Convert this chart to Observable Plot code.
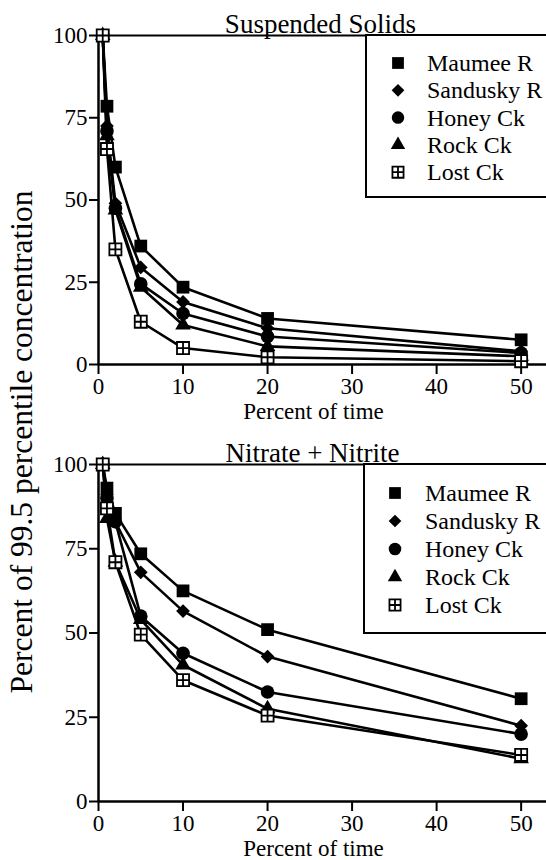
<!DOCTYPE html>
<html>
<head>
<meta charset="utf-8">
<script src="https://cdn.jsdelivr.net/npm/d3@7"></script>
<script src="https://cdn.jsdelivr.net/npm/@observablehq/plot@0.6"></script>
<style>
  body { margin: 0; background: #fff; }
  #chart { position: relative; width: 546px; height: 860px; overflow: hidden; background: #fff; }
  #chart > svg { position: absolute; left: 0; }
  .overlay { position: absolute; left: 0; top: 0; pointer-events: none; }
</style>
</head>
<body>
<div id="chart"></div>
<script>
// Exceedance: percent of time each concentration is exceeded
const percentOfTime = [0.5, 1, 2, 5, 10, 20, 50];
const sites = ["Maumee R", "Sandusky R", "Honey Ck", "Rock Ck", "Lost Ck"];

// Suspended solids, as percent of the 99.5 percentile concentration
const solidsMaumee   = [100, 78.5, 60, 36, 23.5, 14, 7.5];
const solidsSandusky = [100, 72.5, 49, 29.5, 19, 11, 4];
const solidsHoney    = [100, 71, 47.5, 24.5, 15.5, 8.5, 3.5];
const solidsRock     = [100, 69.5, 47, 23.5, 12, 5.5, 2.5];
const solidsLost     = [100, 65.5, 35, 13, 5, 2.2, 1];

// Nitrate + nitrite, as percent of the 99.5 percentile concentration
const nitrateMaumee   = [100, 93, 85.5, 73.5, 62.5, 51, 30.5];
const nitrateSandusky = [100, 91, 83, 68, 56.5, 43, 22.5];
const nitrateHoney    = [100, 90, 83, 55, 44, 32.5, 20];
const nitrateRock     = [100, 84, 71, 54, 40.5, 27.5, 12.7];
const nitrateLost     = [100, 87, 71, 49.5, 36, 25.5, 13.8];

const xTicks = [0, 10, 20, 30, 40, 50];
const yTicks = [0, 25, 50, 75, 100];

const FONT = '"Liberation Serif", "Times New Roman", serif';

// Open square divided into four by a cross
const boxPlus = {
  draw(context, size) {
    const s = Math.sqrt(size) / 2;
    context.moveTo(-s, -s);
    context.lineTo(s, -s);
    context.lineTo(s, s);
    context.lineTo(-s, s);
    context.closePath();
    context.moveTo(0, -s);
    context.lineTo(0, s);
    context.moveTo(-s, 0);
    context.lineTo(s, 0);
  }
};

const markerStyle = {
  "Maumee R":   {symbol: d3.symbolSquare,   r: 7.2, fill: "black", stroke: "none", strokeWidth: 0},
  "Sandusky R": {symbol: d3.symbolDiamond2, r: 6.2, fill: "black", stroke: "none", strokeWidth: 0},
  "Honey Ck":   {symbol: d3.symbolCircle,   r: 6.8, fill: "black", stroke: "none", strokeWidth: 0},
  "Rock Ck":    {symbol: d3.symbolTriangle, r: 5.8, fill: "black", stroke: "none", strokeWidth: 0},
  "Lost Ck":    {symbol: boxPlus,           r: 6.8, fill: "white", stroke: "black", strokeWidth: 1.8}
};

function panel({title, series, top, height, marginTop, marginBottom, titleDx}) {
  const rows = sites.flatMap((site, k) =>
    percentOfTime.map((x, i) => ({site, x, y: series[k][i]}))
  );
  const svg = Plot.plot({
    width: 546,
    height,
    marginLeft: 98,
    marginRight: 0,
    marginTop,
    marginBottom,
    style: {fontFamily: FONT, fontSize: "23px", color: "black", background: "white", overflow: "visible"},
    x: {domain: [0, 53]},
    y: {domain: [0, 100]},
    marks: [
      Plot.ruleY([100], {strokeWidth: 2}),
      Plot.ruleY([0], {strokeWidth: 2.5}),
      Plot.ruleX([0], {strokeWidth: 2.5}),
      Plot.axisX({ticks: xTicks, tickSize: 10, tickPadding: 3, strokeWidth: 2, label: null, tickFormat: d => String(d)}),
      Plot.axisY({ticks: yTicks, tickSize: 9, tickPadding: 2, strokeWidth: 2, label: null, tickFormat: d => String(d)}),
      Plot.line(rows, {x: "x", y: "y", z: "site", stroke: "black", strokeWidth: 2.6}),
      ...sites.map(site => {
        const s = markerStyle[site];
        return Plot.dot(rows.filter(d => d.site === site), {
          x: "x", y: "y", symbol: s.symbol, r: s.r,
          fill: s.fill, stroke: s.stroke, strokeWidth: s.strokeWidth
        });
      }),
      Plot.text([title], {text: d => d, frameAnchor: "top", lineAnchor: "bottom", dy: -3, dx: titleDx, fontSize: 27}),
      Plot.text(["Percent of time"], {text: d => d, frameAnchor: "bottom", lineAnchor: "bottom", dy: 54, dx: -9, fontSize: 23})
    ]
  });
  svg.style.top = top + "px";
  return svg;
}

const chart = document.getElementById("chart");

chart.append(panel({
  title: "Suspended Solids",
  series: [solidsMaumee, solidsSandusky, solidsHoney, solidsRock, solidsLost],
  top: 0, height: 425, marginTop: 35, marginBottom: 61, titleDx: -2
}));

chart.append(panel({
  title: "Nitrate + Nitrite",
  series: [nitrateMaumee, nitrateSandusky, nitrateHoney, nitrateRock, nitrateLost],
  top: 425, height: 435, marginTop: 39, marginBottom: 59, titleDx: -10
}));

// Legends and the shared y-axis title
const overlay = d3.create("svg")
  .attr("class", "overlay")
  .attr("width", 546)
  .attr("height", 860)
  .style("font-family", FONT);

function legend(left, top, boxHeight, firstRow, rowStep, symbolX, textX) {
  const g = overlay.append("g").attr("transform", `translate(${left},${top})`);
  g.append("rect")
    .attr("x", 0).attr("y", 0)
    .attr("width", 546 - left + 20).attr("height", boxHeight)
    .attr("fill", "white").attr("stroke", "black").attr("stroke-width", 2);
  sites.forEach((site, i) => {
    const s = markerStyle[site];
    const cy = firstRow + i * rowStep;
    g.append("path")
      .attr("transform", `translate(${symbolX},${cy})`)
      .attr("d", d3.symbol(s.symbol, Math.PI * s.r * s.r * 0.85)())
      .attr("fill", s.fill)
      .attr("stroke", s.stroke)
      .attr("stroke-width", s.strokeWidth);
    g.append("text")
      .attr("x", textX)
      .attr("y", cy + 8)
      .attr("font-size", 24)
      .text(site);
  });
}

legend(366, 35, 162, 28, 27.3, 32, 61);
legend(364, 464, 169, 29, 28, 31, 61);

overlay.append("text")
  .attr("transform", "translate(32,442) rotate(-90)")
  .attr("text-anchor", "middle")
  .attr("font-size", 31.5)
  .text("Percent of 99.5 percentile concentration");

chart.append(overlay.node());
</script>
</body>
</html>
